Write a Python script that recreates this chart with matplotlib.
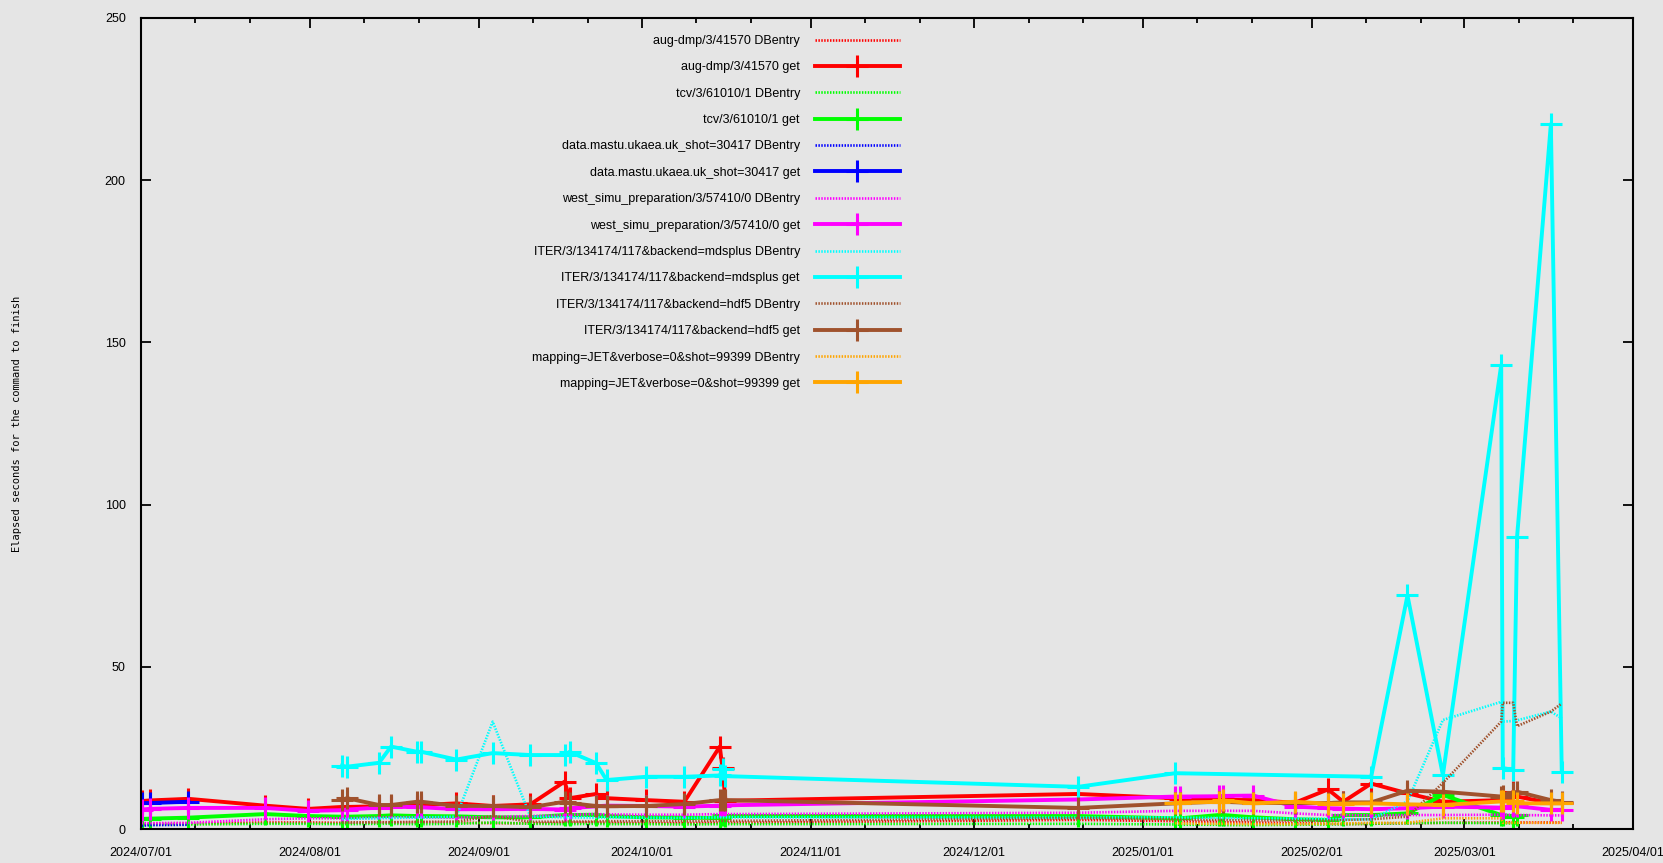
import numpy as np
import pandas as pd
import matplotlib
matplotlib.use("Agg")
import matplotlib.pyplot as plt
import matplotlib.dates as mdates

plt.rcParams['font.family'] = ['Liberation Sans Narrow', 'Liberation Sans', 'DejaVu Sans']

# times at which the tests ran
run_times = pd.to_datetime([
    '2024-07-01 03:00', '2024-07-02 14:00', '2024-07-09 17:00', '2024-07-23 19:00',
    '2024-07-31 17:00', '2024-08-06 22:00', '2024-08-07 19:00', '2024-08-13 17:00',
    '2024-08-15 22:00', '2024-08-20 17:00', '2024-08-21 12:00', '2024-08-27 22:00',
    '2024-09-03 14:00', '2024-09-10 12:00', '2024-09-16 19:00', '2024-09-17 17:00',
    '2024-09-22 14:00', '2024-09-24 12:00', '2024-10-01 19:00', '2024-10-08 19:00',
    '2024-10-15 07:00', '2024-10-15 19:00', '2024-10-16 08:00', '2024-12-20 02:00',
    '2025-01-06 22:00', '2025-01-07 19:00', '2025-01-14 22:00', '2025-01-15 17:00',
    '2025-01-21 07:00', '2025-01-28 22:00', '2025-02-04 00:00', '2025-02-06 19:00',
    '2025-02-11 22:00', '2025-02-18 14:00', '2025-02-25 02:00', '2025-03-07 19:00',
    '2025-03-08 02:00', '2025-03-10 00:00', '2025-03-10 17:00', '2025-03-16 22:00',
    '2025-03-18 22:00',
])

N = None
# elapsed seconds, one value per run time (None = not run)
aug_dbentry = [1.5, 1.6, 1.7, 2.0, 2.0, 1.9, 1.9, 2.0, 2.0, 2.1, 2.1, 2.0,
               1.8, 1.8, 1.9, 2.0, 2.0, 1.9, 1.8, 1.8, 1.9, 1.9, 1.9, 2.8,
               2.4, 2.3, 2.2, 2.1, 2.0, 1.8, 1.6, 1.5, 1.6, 1.8, 1.9, 2.0,
               2.0, 2.1, 2.0, 2.0, 2.0]
aug_get = [8.6, 8.8, 9.3, 7.2, 6.2, 6.8, 6.8, 7.0, 7.2, 7.3, 7.4, 7.9,
           7.1, 7.6, 14.6, 9.5, 10.8, 9.5, 8.9, 8.4, 25.4, 18.7, 8.7, 10.8,
           9.5, 9.4, 9.2, 9.0, 8.9, 8.1, 12.2, 8.4, 14.0, 11.0, 8.4, 8.9,
           9.0, 11.5, 10.0, 8.0, 8.0]
tcv_dbentry = [1.2, 1.3, 1.4, 1.6, 1.6, 1.5, 1.5, 1.6, 1.6, 1.5, 1.5, 1.6,
               2.0, 1.6, 1.5, 1.5, 1.6, 1.5, 1.5, 1.4, 1.5, 1.5, 1.5, 1.6,
               1.4, 1.3, 1.3, 1.2, 1.2, 1.3, 1.4, 1.5, 1.6, 1.8, 1.9, 1.8,
               1.8, 1.7, 1.8, N, N]
tcv_get = [3.1, 3.2, 3.5, 4.6, 4.0, 3.8, 3.8, 4.0, 4.2, 4.0, 4.0, 3.9,
           3.6, 3.6, 4.3, 4.3, 4.4, 4.0, 3.6, 3.5, 3.4, 4.2, 4.0, 4.0,
           3.3, 3.3, 4.3, 4.3, 3.6, 3.0, 2.8, 4.3, 4.3, 4.8, 10.5, 4.3,
           4.3, 3.8, 4.3, N, N]
mast_dbentry = [1.0, 1.2, 1.3] + [N] * 38
mast_get = [8.0, 8.0, 8.4] + [N] * 38
west_dbentry = [1.8, 1.8, 1.9, 3.0, 3.3, 3.3, 3.3, 3.5, 3.6, 3.6, 3.6, 3.5,
                3.7, 4.0, 4.2, 4.4, 4.6, 4.5, 4.4, 4.4, 4.6, 4.6, 4.6, 5.0,
                5.6, 5.6, 5.6, 5.6, 5.6, 4.8, 4.3, 4.3, 4.2, 4.3, 4.3, 4.4,
                4.4, 4.3, 4.3, 4.2, 4.2]
west_get = [6.0, 6.2, 6.5, 6.5, 5.6, 5.8, 6.0, 6.6, 6.8, 6.8, 6.7, 6.1,
            6.1, 6.2, 6.0, 6.4, 7.0, 7.2, 7.1, 6.9, 7.2, 7.3, 7.3, 9.1,
            10.0, 10.0, 10.1, 10.2, 10.3, 6.9, 6.4, 6.3, 6.1, 6.4, 6.9, 6.6,
            6.6, 7.2, 7.0, 5.9, 5.9]
mds_dbentry = [N, N, N, N, N, 3.1, 3.1, 3.3, 3.4, 3.5, 3.5, 3.8,
               33.1, 3.8, 3.6, 3.6, 3.5, 3.6, 3.5, 3.4, 3.6, 3.6, 3.6, 3.5,
               3.6, 3.5, 3.4, 3.4, 3.3, 3.2, 3.1, 3.0, 3.0, 8.5, 33.6, 39.2,
               33.1, 33.3, 33.5, 36.2, 34.1]
mds_get = [N, N, N, N, N, 19.5, 19.2, 20.4, 25.4, 23.8, 23.8, 21.4,
           23.4, 22.8, 22.8, 23.8, 20.3, 15.1, 16.1, 16.1, 16.5, 18.5, 16.3, 13.0,
           17.2, N, N, N, N, N, N, N, 16.1, 72.0, 16.6, 143.0,
           18.8, 18.2, 90.0, 217.3, 17.7]
hdf5_dbentry = [N, N, N, N, N, 2.0, 2.0, 2.1, 2.1, 2.2, 2.2, 2.3,
                4.0, 2.2, 2.3, 2.3, 2.3, 2.4, 2.4, 2.4, 2.5, 2.5, 2.5, 3.3,
                3.0, 2.9, 2.8, 2.8, 2.7, 2.6, 2.6, 2.8, 3.0, 3.8, 14.2, 33.1,
                38.9, 38.9, 31.7, 36.2, 38.7]
hdf5_get = [N, N, N, N, N, 8.9, 9.5, 7.4, 7.4, 8.4, 8.4, 7.1,
            7.1, 6.7, 8.4, 8.0, 7.1, 7.0, 7.1, 7.7, 8.9, 8.9, 8.9, 6.5,
            7.9, 8.0, 8.4, 8.4, 8.0, 8.0, 8.0, 8.2, 8.2, 11.8, 11.5, 10.0,
            10.2, 11.0, 11.5, 8.9, 8.4]
jet_dbentry = [N] * 24 + [1.8, 1.7, 1.6, 1.6, 1.5, 1.5, 1.6, 1.7, 1.9, 1.9,
                          3.3, 3.3, 1.9, 1.9, 1.9, 1.9, 1.9]
jet_get = [N] * 24 + [8.0, 8.1, 8.4, 8.8, 7.9, 8.4, 7.8, 7.8, 7.9, 7.6,
                      7.4, 8.5, 8.5, 8.5, 7.9, 7.9, 7.9]

labels = [
    'aug-dmp/3/41570 DBentry', 'aug-dmp/3/41570 get',
    'tcv/3/61010/1 DBentry', 'tcv/3/61010/1 get',
    'data.mastu.ukaea.uk_shot=30417 DBentry', 'data.mastu.ukaea.uk_shot=30417 get',
    'west_simu_preparation/3/57410/0 DBentry', 'west_simu_preparation/3/57410/0 get',
    'ITER/3/134174/117&backend=mdsplus DBentry', 'ITER/3/134174/117&backend=mdsplus get',
    'ITER/3/134174/117&backend=hdf5 DBentry', 'ITER/3/134174/117&backend=hdf5 get',
    'mapping=JET&verbose=0&shot=99399 DBentry', 'mapping=JET&verbose=0&shot=99399 get',
]
series = [aug_dbentry, aug_get, tcv_dbentry, tcv_get, mast_dbentry, mast_get,
          west_dbentry, west_get, mds_dbentry, mds_get, hdf5_dbentry, hdf5_get,
          jet_dbentry, jet_get]
colors = ['#ff0000', '#00ff00', '#0000ff', '#ff00ff', '#00ffff', '#a0522d', '#ffa500']

bg = '#e5e5e5'
fig = plt.figure(figsize=(16.63, 8.63), dpi=100)
fig.patch.set_facecolor(bg)
ax = fig.add_axes([141 / 1663, 1 - 829 / 863, 1492 / 1663, 811 / 863])
ax.set_facecolor(bg)

for i, (lab, vals) in enumerate(zip(labels, series)):
    col = colors[i // 2]
    v = np.array([np.nan if x is None else x for x in vals], dtype=float)
    ok = ~np.isnan(v)
    if i % 2 == 0:
        ax.plot(run_times[ok], v[ok], color=col, lw=1.9, ls=(0, (0.55, 0.55)), label=lab)
    else:
        ax.plot(run_times[ok], v[ok], color=col, lw=2.8, marker='+', ms=16.5, mew=2.2, label=lab)

ax.set_xlim(pd.Timestamp('2024-07-01'), pd.Timestamp('2025-04-01'))
ax.set_ylim(0, 250)
ax.set_yticks(np.arange(0, 251, 50))
ax.xaxis.set_major_locator(mdates.MonthLocator())
ax.xaxis.set_minor_locator(mdates.DayLocator(bymonthday=[11, 21]))
ax.xaxis.set_major_formatter(mdates.DateFormatter('%Y/%m/%d'))

ax.tick_params(which='both', direction='in', top=True, right=True, width=1.3, labelsize=9)
ax.tick_params(which='major', length=7)
ax.tick_params(which='minor', length=3.5)
ax.tick_params(axis='x', which='major', pad=13)
ax.tick_params(axis='y', which='major', pad=11)
for s in ax.spines.values():
    s.set_linewidth(1.5)

ax.set_ylabel('Elapsed seconds for the command to finish', family='DejaVu Sans Mono', fontsize=7.5)
ax.yaxis.set_label_coords(-0.080, 0.5)

leg = ax.legend(loc='upper right', bbox_to_anchor=((900 - 141) / 1492, (829 - 35) / 811),
                markerfirst=False, frameon=False, numpoints=1, fontsize=9,
                handlelength=6.8, handletextpad=1.2, labelspacing=1.15,
                borderaxespad=0, borderpad=0)

fig.savefig('out.png', dpi=100, facecolor=bg)
